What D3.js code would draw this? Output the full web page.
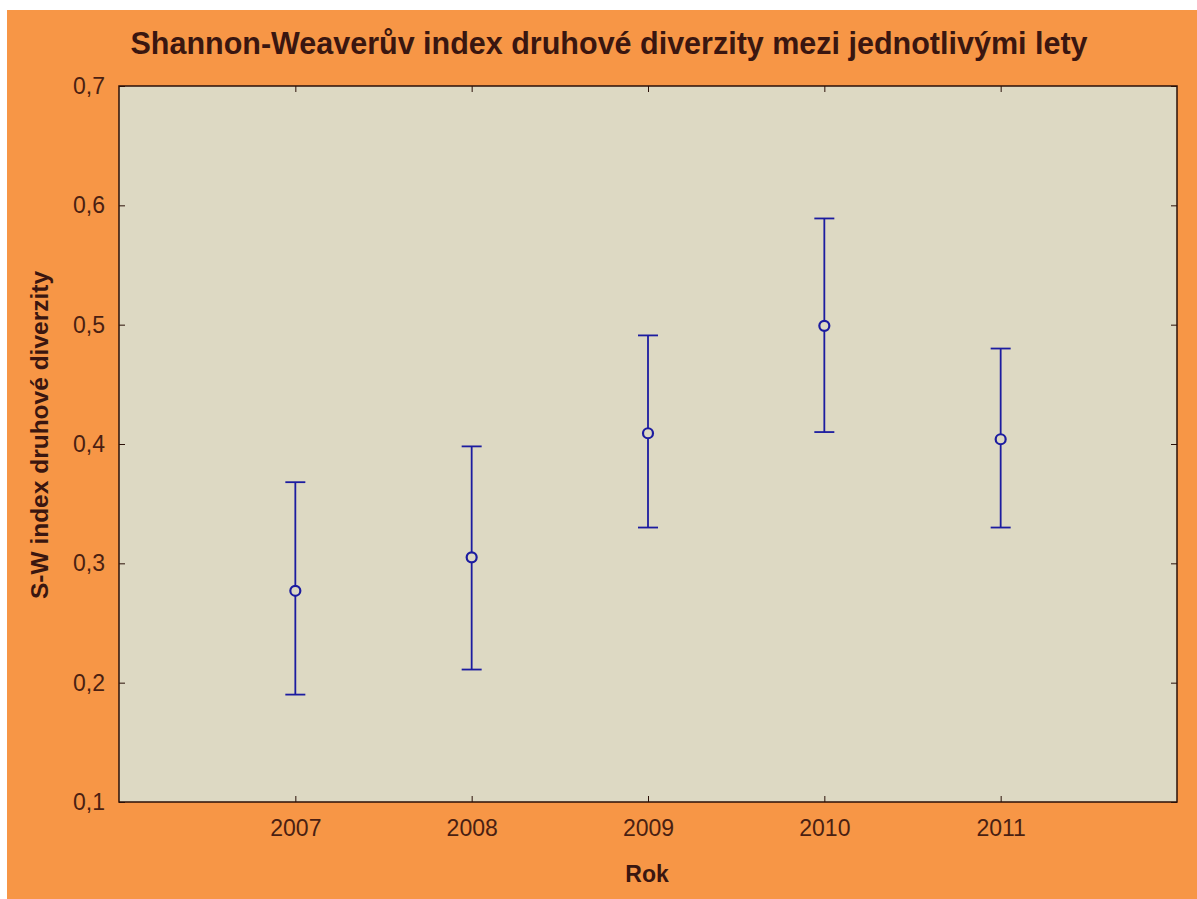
<!DOCTYPE html>
<html>
<head>
<meta charset="utf-8">
<script src="https://cdn.jsdelivr.net/npm/d3@7"></script>
<style>
  html, body { margin: 0; padding: 0; background: #fff; }
  svg { display: block; }
  .tick text { font-family: "Liberation Sans", Arial, sans-serif; font-size: 23px; fill: #4a1f12; }
  .title, .axis-label { font-family: "Liberation Sans", Arial, sans-serif; font-weight: bold; fill: #3a1610; }
</style>
</head>
<body>
<svg id="chart" width="1197" height="899"></svg>
<script>
// years and S-W index means with interval bounds
const years = [2007, 2008, 2009, 2010, 2011];
const means = [0.277, 0.305, 0.409, 0.499, 0.404];
const upper = [0.368, 0.398, 0.491, 0.589, 0.480];
const lower = [0.190, 0.211, 0.330, 0.410, 0.330];
const yTicks = [0.1, 0.2, 0.3, 0.4, 0.5, 0.6, 0.7];

const data = years.map((y, i) => ({ year: y, mean: means[i], hi: upper[i], lo: lower[i] }));

const width = 1197, height = 899;
const margin = { top: 86, right: 20, bottom: 97, left: 119 };
const innerW = width - margin.left - margin.right;
const innerH = height - margin.top - margin.bottom;

const svg = d3.select('#chart');

// orange page background, white strip top/left like the original image
svg.append('rect')
  .attr('x', 7).attr('y', 10)
  .attr('width', width - 7).attr('height', height - 10)
  .attr('fill', '#f79646');

const x = d3.scaleLinear().domain([2006, 2012]).range([0, innerW]);
const y = d3.scaleLinear().domain([0.1, 0.7]).range([innerH, 0]);

const g = svg.append('g').attr('transform', `translate(${margin.left},${margin.top})`);

g.append('rect')
  .attr('width', innerW).attr('height', innerH)
  .attr('fill', '#ddd9c3');

const fmt = d => d3.format('.1f')(d).replace('.', ',');

// axes: short inward ticks on all four sides
const axisStyle = sel => {
  sel.select('.domain').remove();
  sel.selectAll('.tick line').attr('stroke', '#2b1008').attr('stroke-width', 1);
};

g.append('g')
  .attr('transform', `translate(0,${innerH})`)
  .call(d3.axisBottom(x).tickValues(years).tickFormat(d3.format('d')).tickSizeInner(-6).tickPadding(18))
  .call(axisStyle);

g.append('g')
  .call(d3.axisTop(x).tickValues(years).tickFormat('').tickSizeInner(-6))
  .call(axisStyle);

g.append('g')
  .call(d3.axisLeft(y).tickValues(yTicks).tickFormat(fmt).tickSizeInner(-6).tickPadding(14))
  .call(axisStyle);

g.append('g')
  .attr('transform', `translate(${innerW},0)`)
  .call(d3.axisRight(y).tickValues(yTicks).tickFormat('').tickSizeInner(-6))
  .call(axisStyle);

g.append('rect')
  .attr('width', innerW).attr('height', innerH)
  .attr('fill', 'none')
  .attr('stroke', '#2b1008')
  .attr('stroke-width', 1.5);

// error bars
const col = '#1c1ca0';
const cap = 10;
const bars = g.append('g').selectAll('g.err')
  .data(data)
  .join('g')
  .attr('class', 'err');

bars.append('line')
  .attr('x1', d => x(d.year)).attr('x2', d => x(d.year))
  .attr('y1', d => y(d.hi)).attr('y2', d => y(d.lo))
  .attr('stroke', col).attr('stroke-width', 1.8);

bars.append('line')
  .attr('x1', d => x(d.year) - cap).attr('x2', d => x(d.year) + cap)
  .attr('y1', d => y(d.hi)).attr('y2', d => y(d.hi))
  .attr('stroke', col).attr('stroke-width', 1.8);

bars.append('line')
  .attr('x1', d => x(d.year) - cap).attr('x2', d => x(d.year) + cap)
  .attr('y1', d => y(d.lo)).attr('y2', d => y(d.lo))
  .attr('stroke', col).attr('stroke-width', 1.8);

bars.append('circle')
  .attr('cx', d => x(d.year)).attr('cy', d => y(d.mean))
  .attr('r', 5)
  .attr('fill', '#ddd9c3')
  .attr('stroke', col).attr('stroke-width', 2.2);

// texts
svg.append('text')
  .attr('class', 'title')
  .attr('x', 609).attr('y', 54)
  .attr('text-anchor', 'middle')
  .style('font-size', '30.5px')
  .text('Shannon-Weaverův index druhové diverzity mezi jednotlivými lety');

svg.append('text')
  .attr('class', 'axis-label')
  .attr('x', 647).attr('y', 882)
  .attr('text-anchor', 'middle')
  .style('font-size', '23px')
  .text('Rok');

svg.append('text')
  .attr('class', 'axis-label')
  .attr('transform', 'translate(48,435) rotate(-90)')
  .attr('text-anchor', 'middle')
  .style('font-size', '24.5px')
  .text('S-W index druhové diverzity');
</script>
</body>
</html>
